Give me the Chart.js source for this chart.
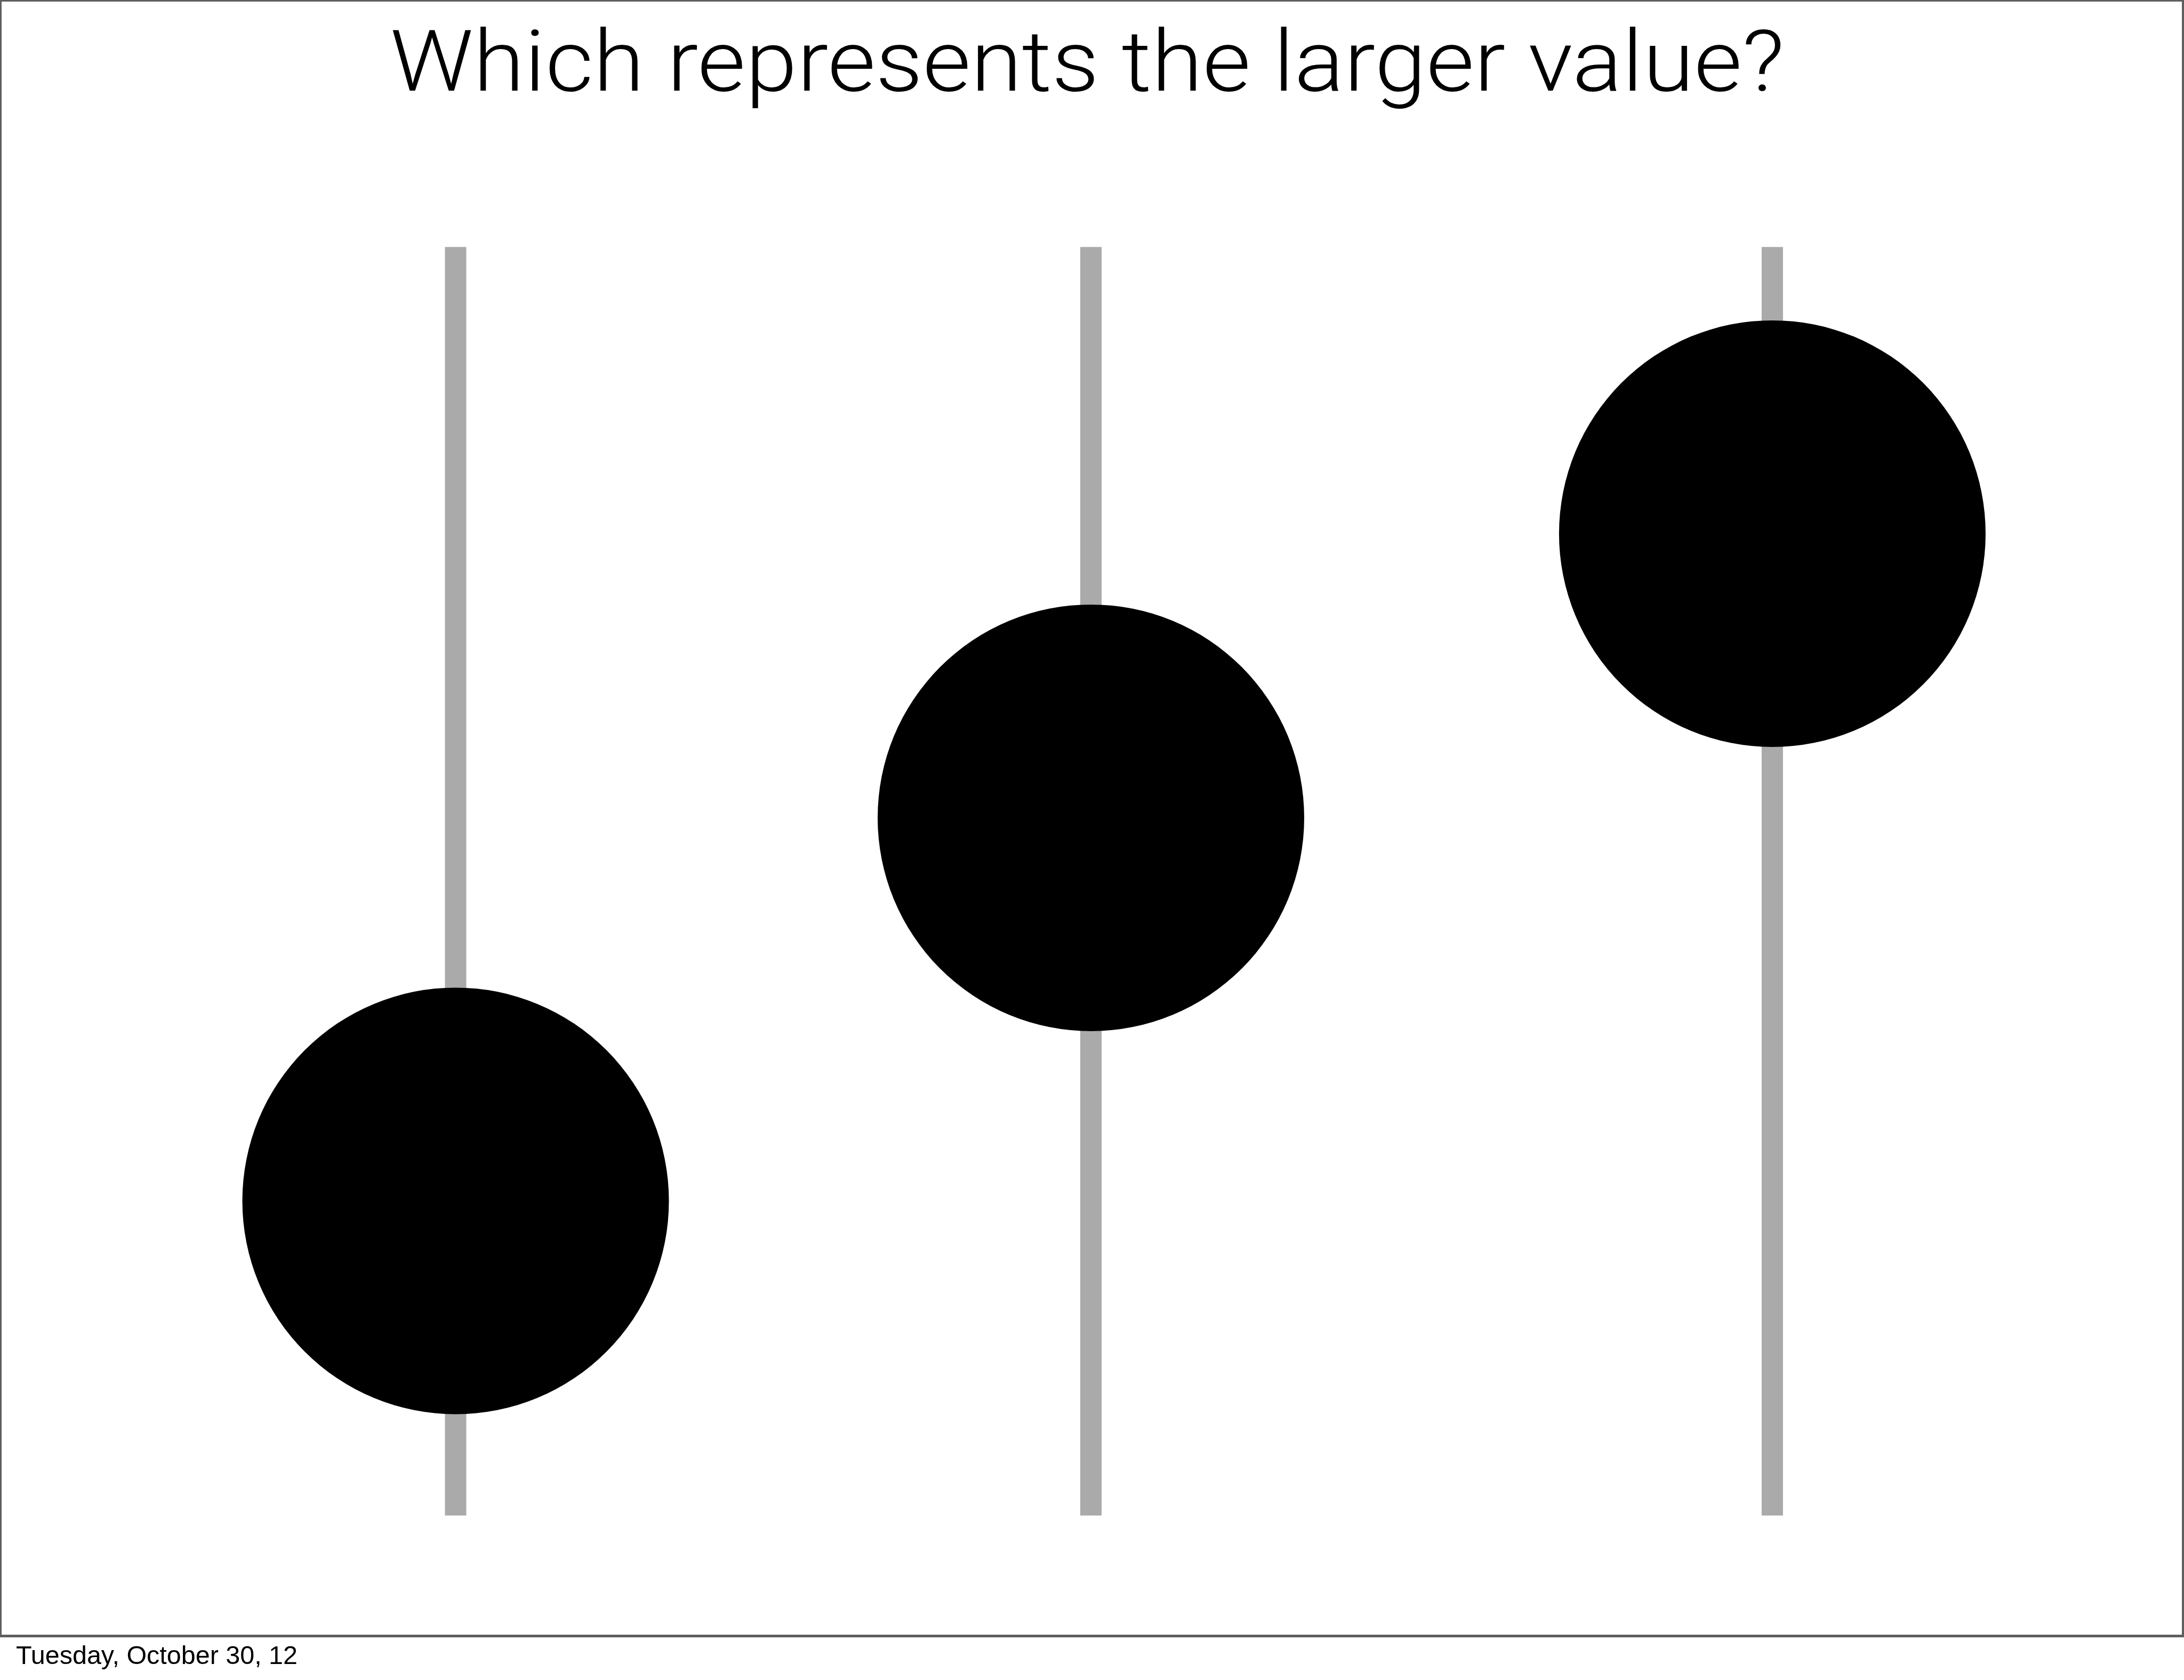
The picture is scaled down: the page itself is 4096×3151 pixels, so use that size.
<!DOCTYPE html>
<html>
<head>
<meta charset="utf-8">
<script src="https://cdn.jsdelivr.net/npm/chart.js@4.4.1/dist/chart.umd.min.js"></script>
<style>
  html, body { margin: 0; padding: 0; background: #ffffff; overflow: hidden; }
  #wrap { position: absolute; left: 0; top: 0; width: 4096px; height: 3151px; }
  canvas { display: block; }
</style>
</head>
<body>
<div id="wrap"><canvas id="c" width="4096" height="3151"></canvas></div>
<script>
// ---- data ----
const categories = ["A", "B", "C"];
const positions = [1, 1.965, 3];          // horizontal placement of each stick
const rangeMin = [0, 0, 0];                // bottom of each grey stick
const rangeMax = [100, 100, 100];          // top of each grey stick
const values = [24.8, 55.0, 77.4];         // the black dots
const titleText = "Which represents the larger value?";
const footerText = "Tuesday, October 30, 12";

// ---- datasets built from the arrays ----
const stickSets = categories.map((c, i) => ({
  type: 'line',
  label: c,
  data: [{x: positions[i], y: rangeMin[i]}, {x: positions[i], y: rangeMax[i]}],
  borderColor: '#aaaaaa',
  borderWidth: 40,
  borderCapStyle: 'butt',
  pointRadius: 0,
  fill: false,
  clip: false,
  order: 1
}));
const dotSet = {
  type: 'scatter',
  label: 'values',
  data: categories.map((c, i) => ({x: positions[i], y: values[i]})),
  backgroundColor: '#000000',
  borderWidth: 0,
  pointRadius: 400,
  pointHoverRadius: 400,
  clip: false,
  order: 0
};

const decor = {
  id: 'decor',
  afterDraw(chart) {
    const ctx = chart.ctx;
    ctx.save();
    // frame
    ctx.fillStyle = '#5e5e5e';
    const W = 4096, fh = 3071;
    ctx.fillRect(0, 0, W, 3);
    ctx.fillRect(0, 0, 3, fh);
    ctx.fillRect(W - 4, 0, 4, fh);
    ctx.fillRect(0, fh - 5, W, 5);
    // title
    ctx.fillStyle = '#000000';
    ctx.textBaseline = 'alphabetic';
    ctx.textAlign = 'left';
    ctx.font = '300 160px Roboto, "Liberation Sans", sans-serif';
    let w = ctx.measureText(titleText).width;
    let sx = 2615 / w;
    ctx.save();
    ctx.translate(2039 - 2615 / 2, 170);
    ctx.scale(sx, 1);
    ctx.fillText(titleText, 0, 0);
    ctx.restore();
    // footer
    ctx.font = '400 48px "Liberation Sans", Arial, sans-serif';
    w = ctx.measureText(footerText).width;
    sx = 528 / w;
    ctx.save();
    ctx.translate(30, 3121);
    ctx.scale(sx, 1);
    ctx.fillText(footerText, 0, 0);
    ctx.restore();
    ctx.restore();
  }
};

new Chart(document.getElementById('c'), {
  data: { datasets: [dotSet, ...stickSets] },
  options: {
    responsive: false,
    animation: false,
    events: [],
    layout: { autoPadding: false, padding: { left: 854.5, right: 772.1, top: 463.2, bottom: 308.5 } },
    scales: {
      x: { type: 'linear', min: 1, max: 3, display: false },
      y: { type: 'linear', min: 0, max: 100, display: false }
    },
    plugins: { legend: { display: false }, tooltip: { enabled: false }, title: { display: false } }
  },
  plugins: [decor]
});
</script>
</body>
</html>
